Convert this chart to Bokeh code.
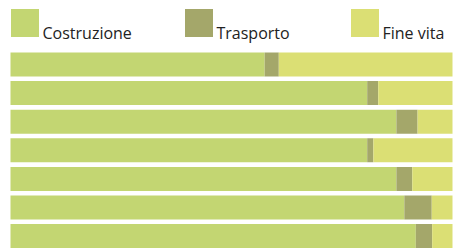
from bokeh.plotting import figure
from bokeh.models import Range1d, Legend, LegendItem
from bokeh.embed import file_html
from bokeh.resources import INLINE

rows = [0, 1, 2, 3, 4, 5, 6]
costruzione = [57.5, 80.7, 87.3, 80.7, 87.3, 89.1, 91.7]
trasporto = [3.2, 2.5, 4.8, 1.4, 3.6, 6.2, 3.7]
fine_vita = [39.3, 16.8, 7.9, 17.9, 9.1, 4.7, 4.6]
labels = ["Costruzione", "Trasporto", "Fine vita"]
colors = ["#c3d672", "#a4a76a", "#dbdf74"]

data = dict(row=rows, c=costruzione, t=trasporto, f=fine_vita)

W, H = 457, 248
p = figure(width=W, height=H, output_backend="svg", toolbar_location=None,
           x_range=Range1d(-2.262, 101.13), y_range=Range1d(6.434, -2.238),
           min_border=0, outline_line_color=None)
p.axis.visible = False
p.grid.visible = False

rs = p.hbar_stack(["c", "t", "f"], y="row", height=0.84, color=colors,
                  line_color=None, source=data)

xs = [6.5, 180.5, 346.5]
for r, lab, x in zip(rs, labels, xs):
    lg = Legend(items=[LegendItem(label="\n" + lab, renderers=[r])],
                location=(x, H - 5.5 - 35 - 3.5), padding=0, margin=0,
                spacing=0, border_line_color=None, background_fill_alpha=0,
                glyph_width=35, glyph_height=35, label_standoff=1,
                label_text_font="Open Sans", label_text_font_size="16px",
                label_text_line_height=0.7,
                label_text_color="#222222")
    p.add_layout(lg)

open("out.html", "w").write(file_html(p, INLINE))
